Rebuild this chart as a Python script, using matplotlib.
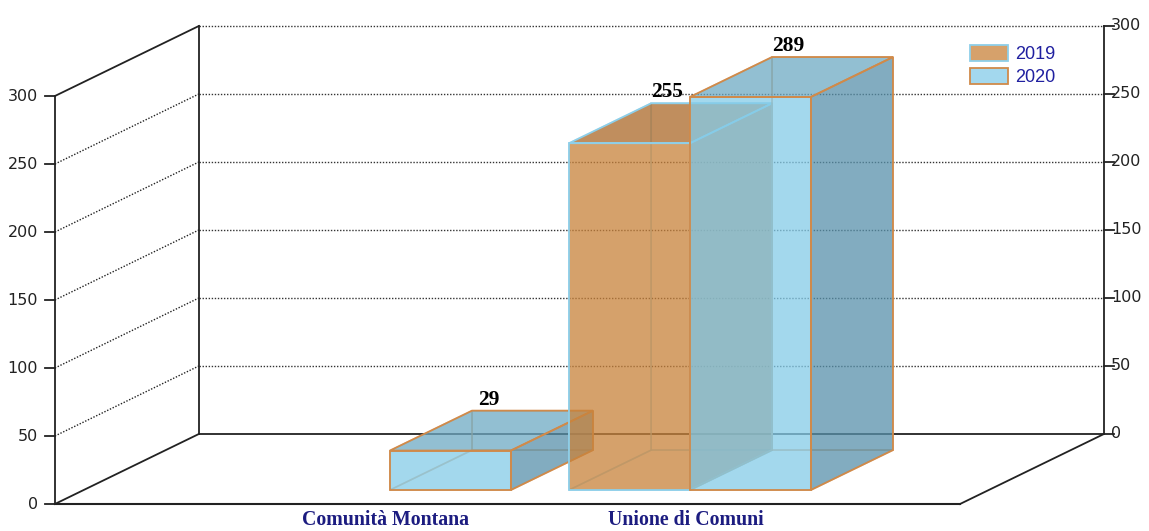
import numpy as np
import matplotlib.pyplot as plt
from matplotlib.patches import Polygon, Patch

# data
categories = ['Comunità Montana', 'Unione di Comuni']
years = ['2019', '2020']
values_2019 = [0, 255]
values_2020 = [29, 289]
yticks = [0, 50, 100, 150, 200, 250, 300]

fig = plt.figure(figsize=(11.49, 5.31), dpi=100)
ax = fig.add_axes([0, 0, 1, 1])
ax.set_xlim(-1.204, 2.626)
ax.set_ylim(-19.85, 370.6)
ax.axis('off')

ux = (2.626 + 1.204) / 1149      # data x per pixel
uy = (370.6 + 19.85) / 531       # data y per pixel

# oblique projection: full depth of the walls
DX, DY = 0.48, 51.5
x_left, x_right = -1.021, 1.996
ymax = yticks[-1]

def P(x, y, z):
    return (x + z * DX, y + z * DY)

dot = (0, (1, 1.2))
wall = '#222222'

# back wall grid
for v in yticks[1:]:
    ax.plot([x_left + DX, x_right + DX], [v + DY, v + DY], color='#333333',
            lw=1, ls=dot, zorder=1)
# left wall
for v in yticks:
    ls = '-' if v in (0, ymax) else dot
    lw = 1.3 if v in (0, ymax) else 1
    ax.plot([x_left, x_left + DX], [v, v + DY], color=wall, lw=lw, ls=ls, zorder=1)
ax.plot([x_left, x_left], [0, ymax], color=wall, lw=1.3, zorder=1)
ax.plot([x_left + DX, x_left + DX], [DY, ymax + DY], color=wall, lw=1.3, zorder=1)
# floor
ax.plot([x_left, x_right], [0, 0], color=wall, lw=1.5, zorder=1)
ax.plot([x_left + DX, x_right + DX], [DY, DY], color=wall, lw=1.3, zorder=1)
ax.plot([x_right, x_right + DX], [0, DY], color=wall, lw=1.3, zorder=1)
# right axis
ax.plot([x_right + DX, x_right + DX], [DY, ymax + DY], color=wall, lw=1.3, zorder=1)

tick_font = dict(fontsize=11.5, color='#222222', family='DejaVu Sans')
for v in yticks:
    ax.plot([x_left - 10 * ux, x_left], [v, v], color=wall, lw=1.3, zorder=1)
    ax.text(x_left - 17 * ux, v, str(v), ha='right', va='center', **tick_font)
    ax.plot([x_right + DX, x_right + DX + 10 * ux], [v + DY, v + DY], color=wall,
            lw=1.3, zorder=1)
    ax.text(x_right + DX + 7 * ux, v + DY, str(v), ha='left', va='center', **tick_font)

# bars
w = 0.403
z0, z1 = 0.2, 0.77
alpha = 0.75
styles = {
    '2019': dict(front='#C8823A', top='#AB6828', side='#A86A30', edge='#8ECFE9'),
    '2020': dict(front='#84CBE8', top='#6EAAC3', side='#5891AB', edge='#D08A4A'),
}

def box(x0, x1, h, st, zo):
    c = P
    hidden = [
        [c(x0, 0, z1), c(x1, 0, z1), c(x1, h, z1), c(x0, h, z1)],
        [c(x0, 0, z0), c(x0, 0, z1), c(x0, h, z1), c(x0, h, z0)],
        [c(x0, 0, z0), c(x1, 0, z0), c(x1, 0, z1), c(x0, 0, z1)],
    ]
    for f in hidden:
        ax.add_patch(Polygon(f, closed=True, fill=False, edgecolor=st['edge'],
                             lw=1.2, alpha=0.5, zorder=zo))
    side = [c(x1, 0, z0), c(x1, 0, z1), c(x1, h, z1), c(x1, h, z0)]
    top = [c(x0, h, z0), c(x1, h, z0), c(x1, h, z1), c(x0, h, z1)]
    front = [c(x0, 0, z0), c(x1, 0, z0), c(x1, h, z0), c(x0, h, z0)]
    for f, col in ((side, st['side']), (top, st['top']), (front, st['front'])):
        ax.add_patch(Polygon(f, closed=True, facecolor=col, edgecolor='none',
                             alpha=alpha, zorder=zo))
        ax.add_patch(Polygon(f, closed=True, fill=False, edgecolor=st['edge'],
                             lw=1.3, zorder=zo + 0.5))

zo = 2
for i, cat in enumerate(categories):
    for yr, vals, x0 in (('2019', values_2019, i - w), ('2020', values_2020, i)):
        v = vals[i]
        if v <= 0:
            continue
        box(x0, x0 + w, v, styles[yr], zo)
        zo += 1
        lx = x0 + w / 2 + z0 * DX + 38 * ux
        ly = v + z1 * DY + 1 * uy
        ax.text(lx, ly, str(v), ha='center', va='bottom', fontsize=15.5,
                fontweight='bold', family='Liberation Serif', color='black',
                zorder=20)

for i, cat in enumerate(categories):
    ax.text(i + z0 * DX - 4 * ux, -11.8, cat, ha='center', va='center',
            fontsize=14.3, fontweight='bold', family='Liberation Serif',
            color='#1c1c80')

handles = [Patch(facecolor='#D6A16B', edgecolor='#8ECFE9', lw=1.3, label='2019'),
           Patch(facecolor='#A3D8EE', edgecolor='#D08A4A', lw=1.3, label='2020')]
ax.legend(handles=handles, loc='upper left', bbox_to_anchor=(970 / 1149, 1 - 45 / 531),
          frameon=False, borderpad=0, borderaxespad=0, handlelength=2.1,
          handleheight=0.95, handletextpad=0.4, labelspacing=0.3,
          prop=dict(family='Liberation Sans', size=13), labelcolor='#2020a0')

fig.savefig('out.png', dpi=100)
